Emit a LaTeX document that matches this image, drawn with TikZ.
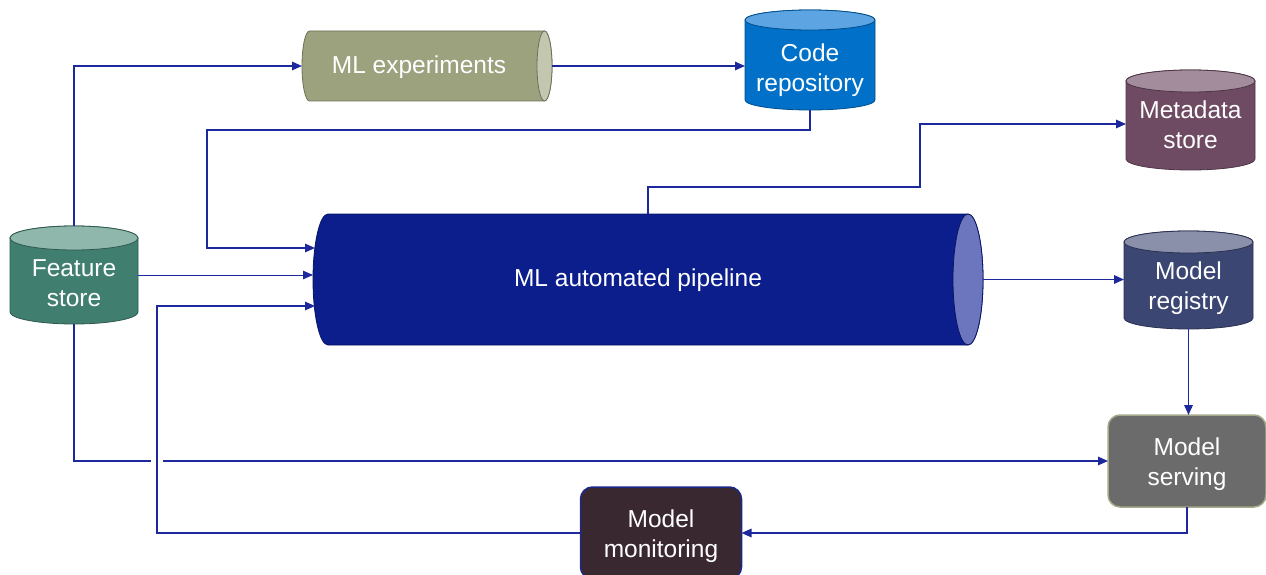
\documentclass[tikz,border=0pt]{standalone}
\usepackage{fontspec}
\setmainfont{Liberation Sans}
\usetikzlibrary{arrows.meta,backgrounds,calc}

\definecolor{linkblue}{RGB}{28,40,155}
\definecolor{fsbody}{RGB}{64,127,112}
\definecolor{fstop}{RGB}{143,183,172}
\definecolor{expbody}{RGB}{156,162,126}
\definecolor{expend}{RGB}{195,199,176}
\definecolor{codebody}{RGB}{0,112,200}
\definecolor{codetop}{RGB}{92,165,226}
\definecolor{metabody}{RGB}{110,75,98}
\definecolor{metatop}{RGB}{163,140,156}
\definecolor{pipebody}{RGB}{11,30,140}
\definecolor{pipeend}{RGB}{108,118,190}
\definecolor{regbody}{RGB}{60,70,114}
\definecolor{regtop}{RGB}{138,144,170}
\definecolor{servefill}{RGB}{107,107,107}
\definecolor{serveline}{RGB}{167,169,139}
\definecolor{monfill}{RGB}{58,40,48}
\definecolor{monline}{RGB}{27,40,138}

% upright drum: node, y radius of the ends, body colour, lid colour
\newcommand\drawdrum[4]{%
  \path let \p1=(#1.north west), \p2=(#1.south east), \n1={(\x2-\x1)/2} in
    [fill=#3, draw=#3!70!black, line width=0.8pt]
    (\x1,{\y1-#2}) -- (\x1,{\y2+#2})
    arc[start angle=180, end angle=360, x radius=\n1, y radius=#2]
    -- (\x2,{\y1-#2})
    arc[start angle=0, end angle=180, x radius=\n1, y radius=#2] -- cycle;
  \path let \p1=(#1.north west), \p2=(#1.south east), \n1={(\x2-\x1)/2} in
    [fill=#4, draw=#3!70!black, line width=0.8pt]
    ({(\x1+\x2)/2},{\y1-#2}) ellipse[x radius=\n1, y radius=#2];
}
% lying tube: node, x radius of the ends, body colour, end colour
\newcommand\drawtube[4]{%
  \path let \p1=(#1.north west), \p2=(#1.south east), \n1={(\y1-\y2)/2} in
    [fill=#3, draw=#3!70!black, line width=0.8pt]
    ({\x1+#2},\y1) -- ({\x2-#2},\y1)
    arc[start angle=90, end angle=-90, x radius=#2, y radius=\n1]
    -- ({\x1+#2},\y2)
    arc[start angle=270, end angle=90, x radius=#2, y radius=\n1] -- cycle;
  \path let \p1=(#1.north west), \p2=(#1.south east), \n1={(\y1-\y2)/2} in
    [fill=#4, draw=#3!70!black, line width=0.8pt]
    ({\x2-#2},{(\y1+\y2)/2}) ellipse[x radius=#2, y radius=\n1];
}

\tikzset{
  area/.style 2 args={inner sep=0pt, outer sep=0pt, minimum width=#1, minimum height=#2},
  txt/.style={text=white, font=\fontsize{24.5}{30}\selectfont, align=center,
    execute at begin node=\strut, execute at end node=\strut},
  link/.style={draw=linkblue, line width=1.6pt},
  flow/.style={link, -{Triangle[length=10pt,width=8.5pt]}},
  card/.style={inner sep=0pt, outer sep=0pt, rounded corners=12pt, line width=1.5pt,
    minimum height=92pt}
}

\begin{document}
\begin{tikzpicture}[x=1pt,y=-1pt]
\useasboundingbox (0,0) rectangle (1266,575);

% storage and processing shapes
\node[area={128pt}{98pt}, label={[txt,yshift=-13pt]center:{Feature\\store}}] (fs) at (74,275) {};
\node[area={250pt}{70pt}, label={[txt,xshift=-8pt,yshift=-2pt]center:{ML experiments}}] (exp) at (427,66) {};
\node[area={130pt}{100pt}, label={[txt,yshift=-12pt]center:{Code\\repository}}] (code) at (810,60) {};
\node[area={129pt}{100pt}, label={[txt,yshift=-9pt]center:{Metadata\\store}}] (meta) at (1190.5,120) {};
\node[area={670pt}{131pt}, label={[txt,xshift=-10pt,yshift=-1pt]center:{ML automated pipeline}}] (pipe) at (648,279.5) {};
\node[area={129pt}{98pt}, label={[txt,yshift=-10pt]center:{Model\\registry}}] (reg) at (1188.5,280) {};

\node[card, minimum width=158pt, fill=servefill, draw=serveline,
  label={[txt,yshift=-5pt]center:{Model\\serving}}] (serve) at (1187,461) {};
\node[card, minimum width=161pt, fill=monfill, draw=monline,
  label={[txt,yshift=-5pt]center:{Model\\monitoring}}] (mon) at (661,533) {};

\begin{scope}[on background layer]
  \drawdrum{fs}{12pt}{fsbody}{fstop}
  \drawdrum{code}{10pt}{codebody}{codetop}
  \drawdrum{meta}{11pt}{metabody}{metatop}
  \drawdrum{reg}{11pt}{regbody}{regtop}
  \drawtube{exp}{7.5pt}{expbody}{expend}
  \drawtube{pipe}{15pt}{pipebody}{pipeend}
\end{scope}

% bend points of the connectors
\coordinate (k1) at (207,130);
\coordinate (in1) at (315,248);
\coordinate (k3) at (157,306);
\coordinate (in3) at (315,306);
\coordinate (k4) at (920,187);
\coordinate (mt) at ([yshift=-4pt]meta.west);
\coordinate (hopL) at (151,461);
\coordinate (hopR) at (163,461);

\draw[flow] (fs.north) |- (exp.west);
\draw[flow] (exp.east) -- (exp.east -| code.west);
\draw[flow] (code.south) |- (k1) |- (in1);
\draw[flow, line width=1pt] (fs.east) -- (fs.east -| pipe.west);
\draw[flow] (mon.west) -| (k3) -- (in3);
\draw[flow] (pipe.north) |- (k4) |- (mt);
\draw[flow] (pipe.east) -- (pipe.east -| reg.west);
\draw[flow] (reg.south) -- (reg.south |- serve.north);
\draw[link] (fs.south) |- (hopL);
\draw[flow] (hopR) -- (serve.west);
\draw[flow] (serve.south) |- (mon.east);
\end{tikzpicture}
\end{document}
